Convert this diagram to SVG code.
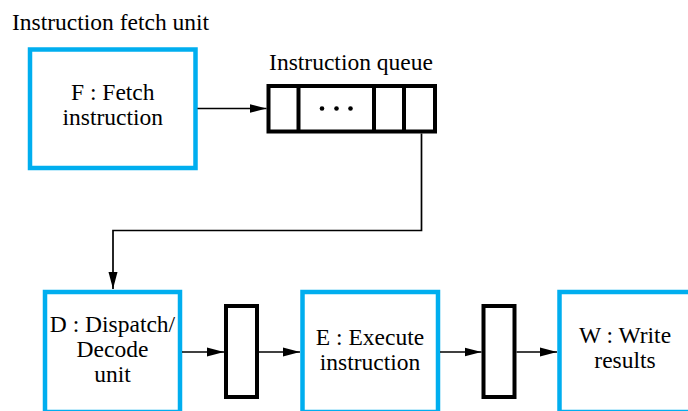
<svg xmlns="http://www.w3.org/2000/svg" width="688" height="411" viewBox="0 0 688 411">
<style>
.box{fill:#fff;stroke:#00AEEF;stroke-width:4.5}
.reg{fill:#fff;stroke:#000;stroke-width:4}
.conn{fill:none;stroke:#000;stroke-width:1.7}
.t{font-family:'Liberation Serif','DejaVu Serif',serif;font-size:23.5px;fill:#000}
.c{text-anchor:middle}
</style>
<defs>
<marker id="ah" markerUnits="userSpaceOnUse" markerWidth="18" markerHeight="10" refX="17" refY="5" orient="auto">
<path d="M0,0.5 L17,5 L0,9.5 Z" fill="#000"/>
</marker>
</defs>
<g font-family="Liberation Serif, DejaVu Serif, serif" font-size="23.5">
<text class="t" x="12" y="30">Instruction fetch unit</text>
<g id="fetch">
<rect class="box" x="30" y="49.5" width="165.5" height="118.5"/>
<text class="t c" x="112.75" y="100">F : Fetch</text>
<text class="t c" x="112.75" y="125">instruction</text>
</g>
<g id="queue">
<text class="t c" x="351" y="70">Instruction queue</text>
<rect class="reg" x="268.5" y="86" width="166.5" height="45.5"/>
<line x1="298.5" y1="86" x2="298.5" y2="131.5" stroke="#000" stroke-width="4"/>
<line x1="374" y1="86" x2="374" y2="131.5" stroke="#000" stroke-width="4"/>
<line x1="404" y1="86" x2="404" y2="131.5" stroke="#000" stroke-width="4"/>
<circle cx="322" cy="108.5" r="2.3"/>
<circle cx="336.5" cy="108.5" r="2.3"/>
<circle cx="350.5" cy="108.5" r="2.3"/>
</g>
<g id="decode">
<rect class="box" x="45" y="292" width="135" height="120"/>
<text class="t c" x="112.5" y="331.5">D : Dispatch/</text>
<text class="t c" x="112.5" y="356.5">Decode</text>
<text class="t c" x="112.5" y="381.5">unit</text>
</g>
<g id="reg1">
<rect class="reg" x="226" y="306" width="31" height="91"/>
</g>
<g id="execute">
<rect class="box" x="302.5" y="292" width="135.5" height="120"/>
<text class="t c" x="370" y="345">E : Execute</text>
<text class="t c" x="370" y="370">instruction</text>
</g>
<g id="reg2">
<rect class="reg" x="483.5" y="306" width="31" height="91"/>
</g>
<g id="write">
<rect class="box" x="559.5" y="292" width="132" height="120"/>
<text class="t c" x="625" y="343">W : Write</text>
<text class="t c" x="625" y="368">results</text>
</g>
</g>
<g id="connectors">
<line class="conn" x1="197.5" y1="108.5" x2="266.5" y2="108.5" marker-end="url(#ah)"/>
<polyline class="conn" points="421.5,133.5 421.5,230.5 113,230.5 113,289" marker-end="url(#ah)"/>
<line class="conn" x1="182" y1="352" x2="224" y2="352" marker-end="url(#ah)"/>
<line class="conn" x1="259" y1="352" x2="300" y2="352" marker-end="url(#ah)"/>
<line class="conn" x1="440" y1="352" x2="481.5" y2="352" marker-end="url(#ah)"/>
<line class="conn" x1="516.5" y1="352" x2="557" y2="352" marker-end="url(#ah)"/>
</g>
</svg>
